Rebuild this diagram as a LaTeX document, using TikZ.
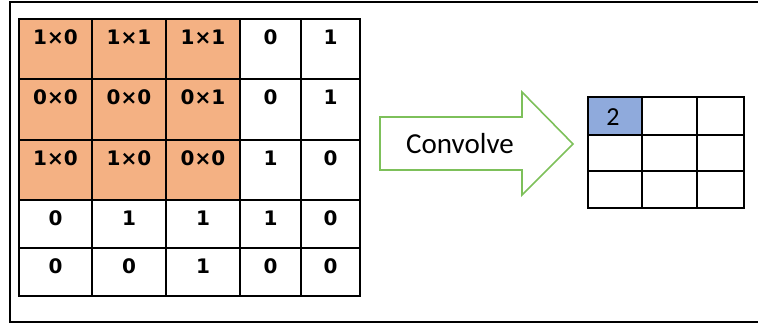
\documentclass[tikz,border=0pt]{standalone}
\usepackage{fontspec}
\setmainfont{DejaVu Sans}
\newfontfamily\calibfont{Carlito}
\definecolor{patchfill}{HTML}{F4B183}
\definecolor{outfill}{HTML}{8FAADC}
\definecolor{arrowgreen}{HTML}{7DC05A}
\begin{document}
\begin{tikzpicture}[x=1pt,y=-1pt,
  gridline/.style={line width=1.8pt, black, line cap=rect},
  cellnum/.style={font=\bfseries\fontsize{20}{20}\selectfont, anchor=base, inner sep=0pt},
  outnum/.style={font=\calibfont\fontsize{26}{26}\selectfont, anchor=base, inner sep=0pt},
  arrowlabel/.style={font=\calibfont\fontsize{29}{29}\selectfont, anchor=base, inner sep=0pt}]
\useasboundingbox (0,0) rectangle (758,327);

% outer frame, open on the right
\draw[line width=2.2pt] (760,2) -- (10,2) -- (10,322) -- (760,322);

% input matrix: highlighted 3x3 patch
\fill[patchfill] (19,19) rectangle (240,200);
\foreach \x in {19,92,166,240,301,360}
  \draw[gridline] (\x,19) -- (\x,296);
\foreach \y in {19,79,140,200,248,296}
  \draw[gridline] (19,\y) -- (360,\y);

% cell entries (column centres / row tops)
\def\cx{{55.5,129,203,270.5,330.5}}
\def\ry{{19,79,140,200,248}}
\foreach \r/\row in {0/{1×0,1×1,1×1,0,1},
                     1/{0×0,0×0,0×1,0,1},
                     2/{1×0,1×0,0×0,1,0},
                     3/{0,1,1,1,0},
                     4/{0,0,1,0,0}} {
  \foreach \v [count=\c from 0] in \row {
    \pgfmathsetmacro{\xx}{\cx[\c]}
    \pgfmathsetmacro{\yy}{\ry[\r]+25}
    \node[cellnum] (in-\r-\c) at (\xx,\yy) {\v};
  }
}

% convolve arrow
\draw[arrowgreen, line width=1.6pt, line join=miter]
  (380,117) -- (522,117) -- (522,92) -- (573,144) -- (522,195) -- (522,170) -- (380,170) -- cycle;
\node[arrowlabel] (conv) at (460,153) {Convolve};

% output feature map
\fill[outfill] (588,97) rectangle (642,135);
\foreach \x in {588,642,697,744}
  \draw[gridline] (\x,97) -- (\x,208);
\foreach \y in {97,135,171,208}
  \draw[gridline] (588,\y) -- (744,\y);
\node[outnum] (out-0-0) at (613,125) {2};
\end{tikzpicture}
\end{document}
